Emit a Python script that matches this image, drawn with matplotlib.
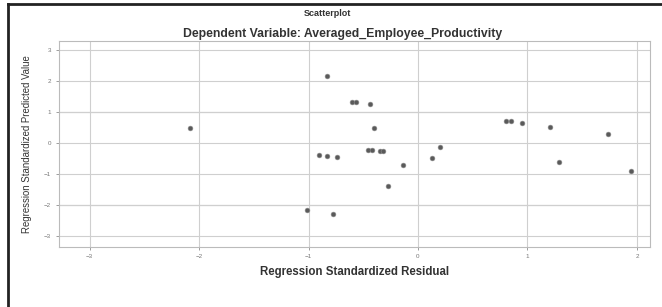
import matplotlib.pyplot as plt
from matplotlib.lines import Line2D

plt.rcParams['font.family'] = ['Liberation Sans', 'DejaVu Sans']

# standardized residual (x) vs standardized predicted value (y)
residual = [-2.08, -0.83, -0.90, -0.83, -0.74, -1.01, -0.78,
            -0.60, -0.57, -0.44, -0.40, -0.46, -0.42, -0.35, -0.32,
            -0.14, -0.27, 0.13, 0.20, 0.80, 0.85, 0.95, 1.21, 1.29,
            1.74, 1.95]
predicted = [0.48, 2.15, -0.40, -0.42, -0.46, -2.17, -2.27,
             1.31, 1.31, 1.24, 0.49, -0.22, -0.22, -0.27, -0.27,
             -0.71, -1.40, -0.47, -0.13, 0.70, 0.70, 0.63, 0.52, -0.61,
             0.29, -0.90]

x_ticks = [-3, -2, -1, 0, 1, 2]
y_ticks = [-3, -2, -1, 0, 1, 2, 3]

fig = plt.figure(figsize=(6.62, 3.07), dpi=100)
ax = fig.add_axes([0.089, 0.196, 0.893, 0.67])

ax.scatter(residual, predicted, s=12, color='#5a5a5a', edgecolors='#909090',
           linewidths=0.4, zorder=3)

ax.set_xlim(-3.28, 2.12)
ax.set_ylim(-3.34, 3.27)
ax.set_xticks(x_ticks)
ax.set_yticks(y_ticks)
ax.tick_params(labelsize=4.5, colors='#777777', length=2, width=0.5)
ax.grid(True, color='#cfcfcf', linewidth=0.8)
for v in (1, -2):
    ax.axhline(v, color='#a8a8a8', linewidth=0.8, zorder=1)
for s in ax.spines.values():
    s.set_color('#bbbbbb')
    s.set_linewidth(0.8)

ax.set_xlabel('Regression Standardized Residual', fontsize=8.3,
              fontweight='bold', color='#333333', labelpad=5)
ax.set_ylabel('Regression Standardized Predicted Value', fontsize=6.9,
              color='#333333', labelpad=9)

fig.text(0.495, 0.955, 'Scatterplot', ha='center', va='center',
         fontsize=6.5, fontweight='bold', color='#333333')
fig.text(0.517, 0.89, 'Dependent Variable: Averaged_Employee_Productivity',
         ha='center', va='center', fontsize=8.8, fontweight='bold',
         color='#333333')

# screenshot frame (top and left border)
fig.add_artist(Line2D([0.012, 1.0], [0.987, 0.987], color='#222222',
                      linewidth=2, transform=fig.transFigure))
fig.add_artist(Line2D([0.012, 0.012], [0.0, 0.987], color='#222222',
                      linewidth=2, transform=fig.transFigure))

fig.savefig('out.png', dpi=100)
